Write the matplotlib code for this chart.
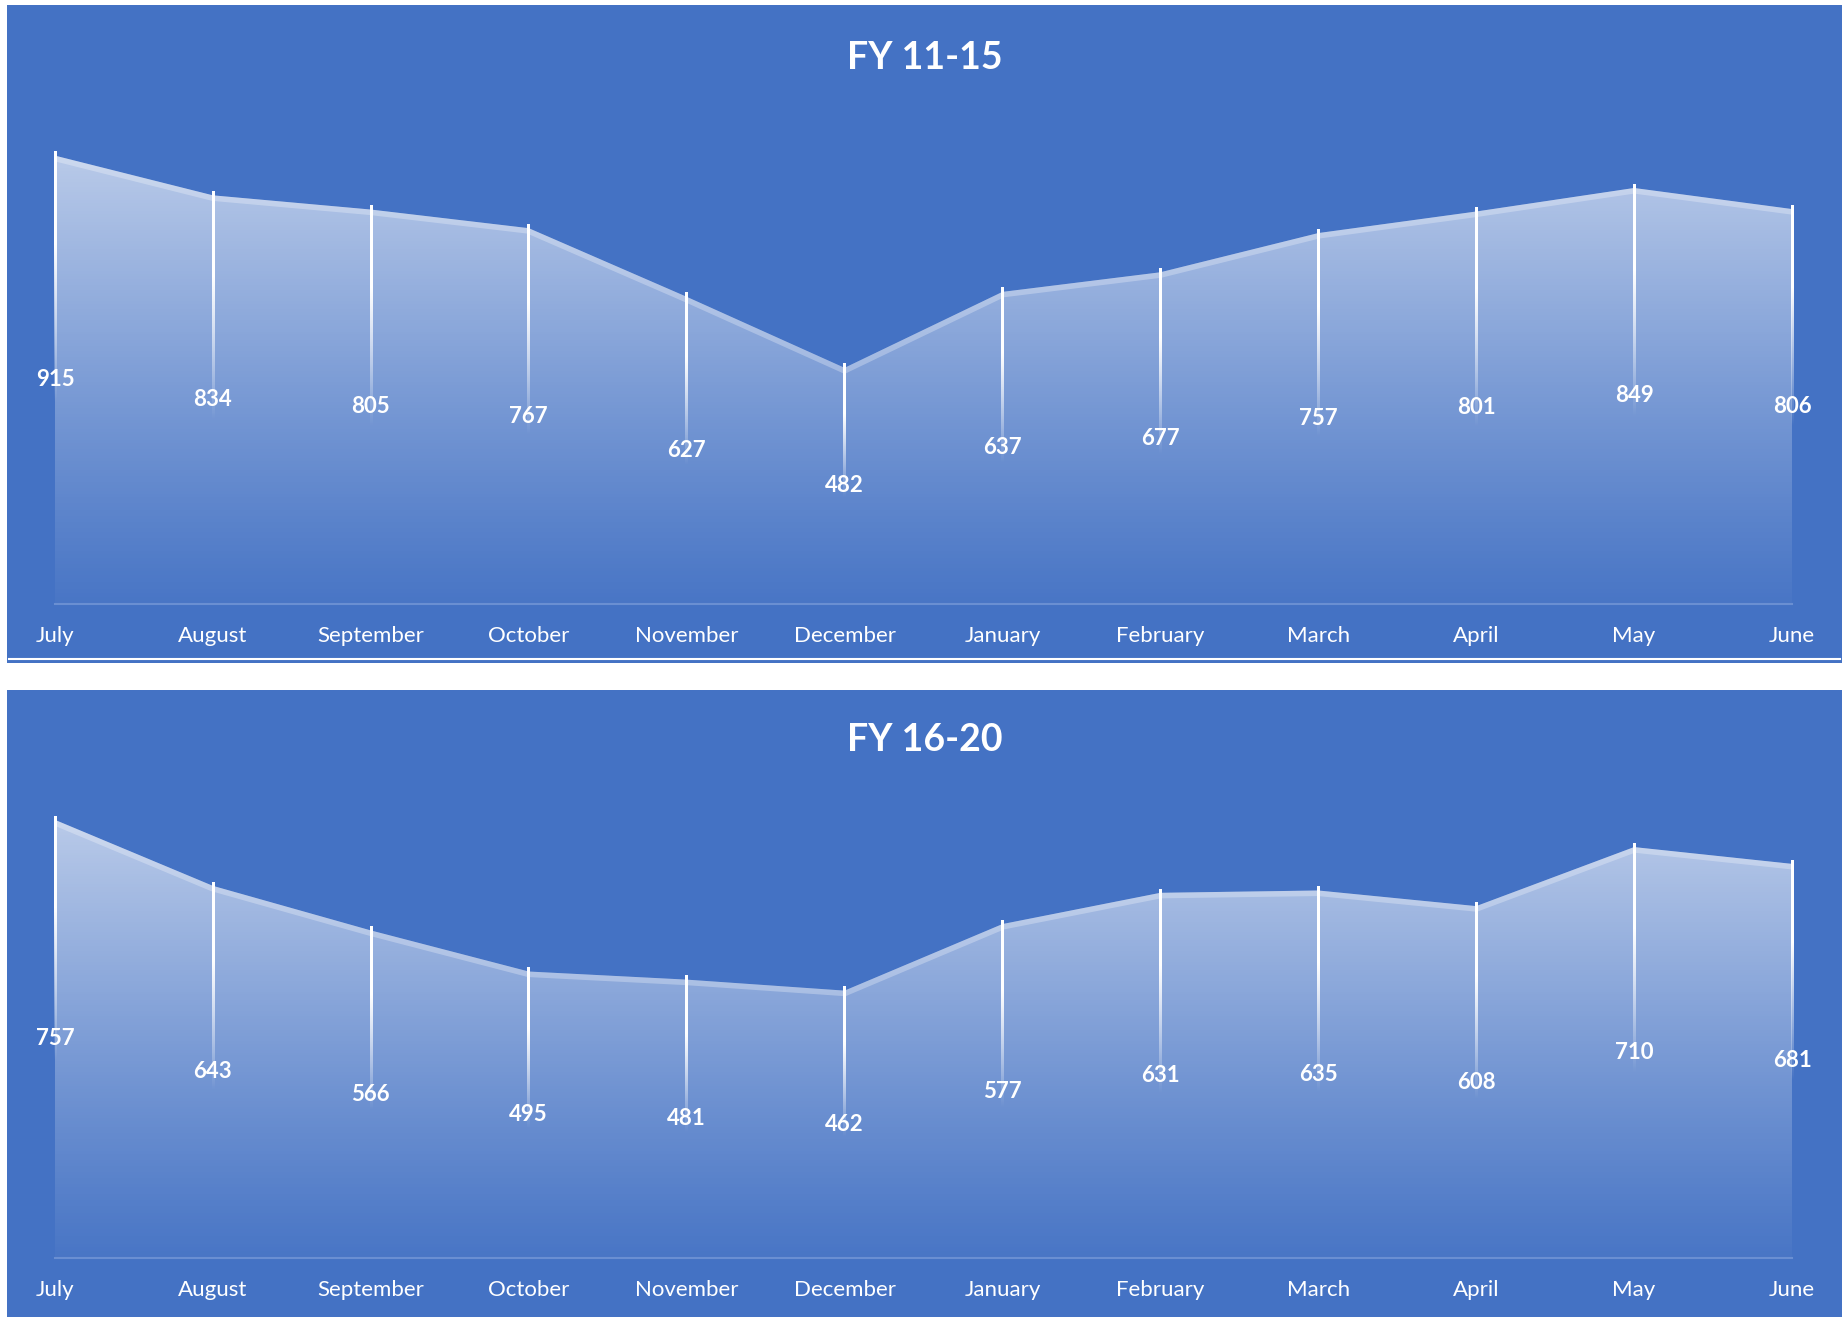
import numpy as np
import matplotlib
matplotlib.use('Agg')
import matplotlib.pyplot as plt
from matplotlib.patches import Rectangle, Polygon

plt.rcParams['font.family'] = ['Lato', 'DejaVu Sans']

months = ['July', 'August', 'September', 'October', 'November', 'December',
          'January', 'February', 'March', 'April', 'May', 'June']
fy_11_15 = [915, 834, 805, 767, 627, 482, 637, 677, 757, 801, 849, 806]
fy_16_20 = [757, 643, 566, 495, 481, 462, 577, 631, 635, 608, 710, 681]
titles = ['FY 11-15', 'FY 16-20']
ymax = [1000, 800]

W, H = 1849, 1317
BG = '#4472C4'

fig = plt.figure(figsize=(W / 100, H / 100), dpi=100, facecolor='white')

# panel backgrounds (pixel coords -> figure fraction)
def px_rect(x0, y0, x1, y1):
    return [x0 / W, 1 - y1 / H, (x1 - x0) / W, (y1 - y0) / H]

for (x0, y0, x1, y1) in [(7, 5, 1842, 663), (7, 690, 1842, 1317)]:
    r = px_rect(x0, y0, x1, y1)
    fig.patches.append(Rectangle((r[0], r[1]), r[2], r[3], transform=fig.transFigure,
                                 facecolor=BG, edgecolor='none', zorder=-5))
# thin white line at the foot of the upper panel
fig.lines.append(plt.Line2D([9 / W, 1840 / W], [1 - 659 / H] * 2, transform=fig.transFigure,
                            color='white', lw=1.5, zorder=-4))

axes_px = [(55, 114, 1792, 604), (55, 795, 1792, 1258)]
title_y = [58, 740]

for k, vals in enumerate([fy_11_15, fy_16_20]):
    x0, y0, x1, y1 = axes_px[k]
    ax = fig.add_axes(px_rect(x0, y0, x1, y1))
    ax.set_facecolor('none')
    ax.set_xlim(0, 11)
    ax.set_ylim(0, ymax[k])
    x = np.arange(len(vals))
    v = np.array(vals, dtype=float)
    top = v.max()

    # gradient area fill
    poly = Polygon(np.column_stack([np.r_[x, x[-1], x[0]], np.r_[v, 0, 0]]),
                   closed=True, facecolor='none', edgecolor='none')
    ax.add_patch(poly)
    g = np.linspace(0, 1, 256)[:, None]
    rgba = np.ones((256, 2, 4))
    rgba[:, :, 3] = (0.03 + 0.6 * g ** 1.1)
    im = ax.imshow(rgba, extent=[0, 11, 0, top], origin='lower', aspect='auto',
                   interpolation='bilinear', zorder=1)
    im.set_clip_path(poly)

    # light band along the top edge
    edge, = ax.plot(x, v, color='white', lw=8, alpha=0.28, zorder=2,
                    solid_joinstyle='miter')
    edge.set_clip_path(poly)

    # baseline
    ax.plot([0, 11], [0, 0], color='#6A8FD2', lw=1.5, zorder=2, clip_on=False)

    # fading drop lines (thin gradient strips)
    half_w = 11 / (x1 - x0) * 1.3
    for xi, vi in zip(x, v):
        ytop = vi + ymax[k] * 0.008
        ys = np.linspace(0, ytop, 200)
        strip = np.ones((200, 1, 4))
        strip[:, 0, 3] = np.clip((ys - 0.45 * vi) / (0.35 * vi), 0, 1)
        ax.imshow(strip, extent=[xi - half_w, xi + half_w, 0, ytop], origin='lower',
                  aspect='auto', interpolation='bilinear', zorder=3, clip_on=False)

    # data labels
    for xi, vi in zip(x, vals):
        ax.text(xi, vi / 2, str(vi), color='white', fontsize=16, fontweight='bold',
                ha='center', va='center', zorder=4)

    ax.set_xlim(0, 11)
    ax.set_ylim(0, ymax[k])
    ax.set_xticks(x)
    ax.set_xticklabels(months, color='white', fontsize=16)
    ax.tick_params(axis='x', length=0, pad=16)
    ax.set_yticks([])
    for s in ax.spines.values():
        s.set_visible(False)

    fig.text(0.5, 1 - title_y[k] / H, titles[k], color='white', fontsize=27,
             fontweight='bold', ha='center', va='center')

fig.savefig('out.png', dpi=100, facecolor='white')
